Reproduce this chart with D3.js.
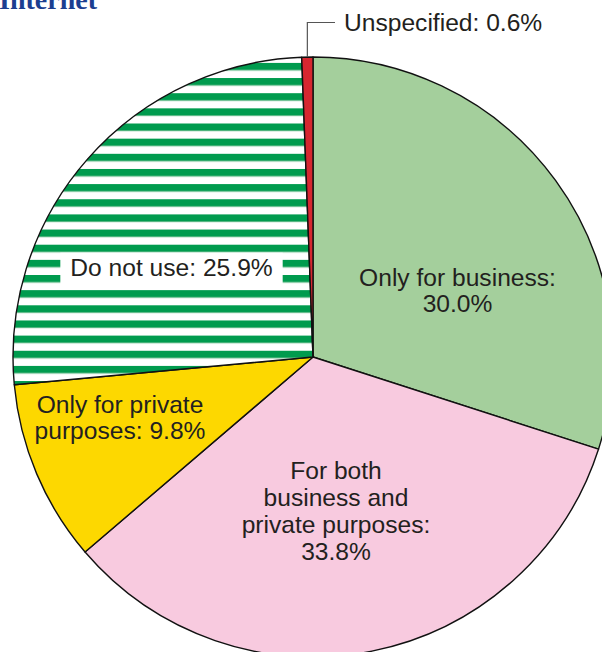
<!DOCTYPE html>
<html>
<head>
<meta charset="utf-8">
<script src="https://cdn.jsdelivr.net/npm/d3@7"></script>
<style>
  html, body { margin: 0; padding: 0; background: #fff; }
  svg { display: block; overflow: hidden; }
</style>
</head>
<body>
<svg id="chart" width="602" height="652"></svg>
<script>
// Internet use, share of respondents (%)
const categories = [
  "Only for business",
  "For both business and private purposes",
  "Only for private purposes",
  "Do not use",
  "Unspecified"
];
const values = [30.0, 33.8, 9.8, 25.9, 0.6];

// Label text lines (value appended from the data)
const labelLines = [
  ["Only for business:", "{v}"],
  ["For both", "business and", "private purposes:", "{v}"],
  ["Only for private", "purposes: {v}"],
  ["Do not use: {v}"],
  ["Unspecified: {v}"]
];

// Styling
const fills = ["#a4cf9c", "#f8cadf", "#fdd800", "url(#stripes)", "#d62730"];
const textColor = "#231f20";
const fontFamily = "'Liberation Sans', Arial, Helvetica, sans-serif";
const fontSize = 24.6;

// Layout
const cx = 313, cy = 357, radius = 300;
// label anchor offsets from pie centre: [dx, dy of first baseline, line height]
const labelLayout = [
  { dx: 144.5, dy: -71.3, lh: 26.2 },
  { dx: 23, dy: 122.3, lh: 26.8 },
  { dx: -193, dy: 56.3, lh: 26 },
  { dx: -141.5, dy: -81.3, lh: 26, box: true },
  { leader: true }
];

const svg = d3.select("#chart");

// Horizontal green stripe pattern
const defs = svg.append("defs");
const stripeH = 15.15;
const pat = defs.append("pattern")
  .attr("id", "stripes")
  .attr("patternUnits", "userSpaceOnUse")
  .attr("x", 0).attr("y", 69.5)
  .attr("width", 75).attr("height", stripeH);
pat.append("rect").attr("width", 75).attr("height", stripeH).attr("fill", "#ffffff");
pat.append("rect").attr("y", -0.8).attr("width", 75).attr("height", 8.6).attr("fill", "#8fcaa6");
pat.append("rect").attr("y", 0).attr("width", 75).attr("height", 7).attr("fill", "#009b4e");

// Title
svg.append("text")
  .attr("x", -1).attr("y", 9)
  .attr("font-family", "'Liberation Serif', 'Times New Roman', serif")
  .attr("font-weight", "bold")
  .attr("font-size", 28)
  .attr("fill", "#1c3e90")
  .text("Internet");

const pie = d3.pie().sort(null).value(d => d).startAngle(0).endAngle(2 * Math.PI);
const arcs = pie(values);
const arc = d3.arc().innerRadius(0).outerRadius(radius);

const g = svg.append("g").attr("transform", `translate(${cx},${cy})`);

g.selectAll("path.slice")
  .data(arcs)
  .join("path")
  .attr("class", "slice")
  .attr("d", arc)
  .attr("fill", (d, i) => fills[i])
  .attr("stroke", "#111")
  .attr("stroke-width", 1.4)
  .attr("stroke-linejoin", "round");

const fmt = v => v.toFixed(1) + "%";

arcs.forEach((a, i) => {
  const L = labelLayout[i];
  const lines = labelLines[i].map(s => s.replace("{v}", fmt(values[i])));
  if (L.leader) {
    // Leader from the slice's outer edge up and to the right
    const mid = (a.startAngle + a.endAngle) / 2;
    const x0 = radius * Math.sin(mid);
    const y0 = -radius * Math.cos(mid);
    const yTop = 22.5 - cy;
    const xEnd = 335 - cx;
    g.append("polyline")
      .attr("points", `${x0},${y0} ${x0},${yTop} ${xEnd},${yTop}`)
      .attr("fill", "none")
      .attr("stroke", "#555")
      .attr("stroke-width", 1.2);
    g.append("text")
      .attr("x", xEnd + 9).attr("y", yTop + 8.2)
      .attr("font-family", fontFamily)
      .attr("font-size", fontSize)
      .attr("fill", textColor)
      .text(lines[0]);
    return;
  }
  const t = g.append("text")
    .attr("font-family", fontFamily)
    .attr("font-size", fontSize)
    .attr("fill", textColor)
    .attr("text-anchor", "middle");
  lines.forEach((ln, k) => {
    t.append("tspan").attr("x", L.dx).attr("y", L.dy + k * L.lh).text(ln);
  });
  if (L.box) {
    const bb = t.node().getBBox();
    g.insert("rect", () => t.node())
      .attr("x", bb.x - 10).attr("y", L.dy - 23)
      .attr("width", bb.width + 20).attr("height", 34)
      .attr("fill", "#fff");
  }
});
</script>
</body>
</html>
